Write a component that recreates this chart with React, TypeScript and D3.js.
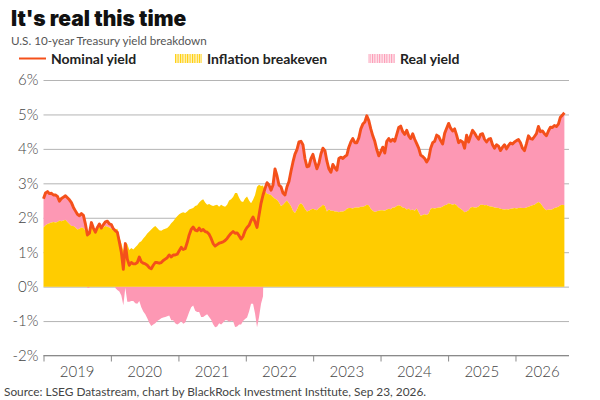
import { useEffect, useRef } from 'react';
import * as d3 from 'd3';

const yTicks = [6, 5, 4, 3, 2, 1, 0, -1, -2];
const yearLabels = [2019, 2020, 2021, 2022, 2023, 2024, 2025, 2026];

// percent at even steps from Jan 2019 to Sep 2026
const nominal = [
  2.55, 2.72, 2.76, 2.7, 2.71, 2.66, 2.66, 2.62, 2.48, 2.56,
  2.6, 2.64, 2.58, 2.52, 2.44, 2.3, 2.2, 2.1, 2.06, 2.12,
  2.07, 1.82, 1.5, 1.55, 1.86, 1.7, 1.58, 1.72, 1.82, 1.7,
  1.8, 1.88, 1.9, 1.82, 1.8, 1.68, 1.62, 1.58, 1.3, 1.0,
  0.5, 1.25, 0.8, 0.62, 0.7, 0.66, 0.66, 0.7, 0.86, 0.72,
  0.68, 0.66, 0.62, 0.55, 0.52, 0.62, 0.7, 0.7, 0.68, 0.7,
  0.76, 0.8, 0.84, 0.92, 0.86, 0.92, 0.92, 0.94, 1.04, 1.14,
  1.08, 1.1, 1.28, 1.5, 1.66, 1.73, 1.64, 1.62, 1.7, 1.62,
  1.66, 1.6, 1.58, 1.52, 1.4, 1.25, 1.18, 1.22, 1.26, 1.28,
  1.3, 1.34, 1.4, 1.48, 1.55, 1.6, 1.55, 1.56, 1.48, 1.38,
  1.46, 1.62, 1.72, 1.78, 1.92, 2.02, 1.88, 1.72, 2.08, 2.42,
  2.66, 2.85, 3.02, 2.95, 2.8, 2.95, 3.42, 3.22, 2.95, 2.9,
  2.72, 2.66, 2.9, 3.05, 3.35, 3.62, 3.85, 3.98, 4.2, 4.22,
  4.12, 3.72, 3.48, 3.5, 3.72, 3.84, 3.62, 3.42, 3.58, 3.85,
  4.02, 3.95, 3.65, 3.42, 3.32, 3.55, 3.45, 3.38, 3.72, 3.76,
  3.72, 3.78, 3.82, 4.05, 4.2, 4.3, 4.18, 4.18, 4.32, 4.58,
  4.72, 4.78, 4.96, 4.82, 4.58, 4.38, 4.22, 3.98, 3.8, 3.92,
  4.05, 3.88, 4.22, 4.3, 4.22, 4.28, 4.22, 4.42, 4.62, 4.66,
  4.5, 4.42, 4.54, 4.38, 4.3, 4.44, 4.28, 4.15, 4.02, 3.82,
  3.78, 3.72, 3.62, 3.72, 4.02, 4.18, 4.22, 4.4, 4.36, 4.24,
  4.14, 4.45, 4.6, 4.74, 4.6, 4.52, 4.58, 4.4, 4.18, 4.24,
  4.2, 4.02, 4.4, 4.2, 4.38, 4.54, 4.46, 4.36, 4.28, 4.42,
  4.44, 4.28, 4.2, 4.28, 4.3, 4.12, 4.02, 4.12, 4.08, 3.95,
  4.05, 4.12, 4.0, 4.1, 4.17, 4.14, 4.2, 4.24, 4.27, 4.18,
  4.02, 3.95, 4.15, 4.38, 4.3, 4.28, 4.36, 4.44, 4.65, 4.5,
  4.52, 4.44, 4.38, 4.52, 4.63, 4.62, 4.68, 4.65, 4.72, 4.92,
  4.98, 5.05,
];

const breakeven = [
  1.72, 1.78, 1.82, 1.84, 1.86, 1.88, 1.86, 1.88, 1.92, 1.9,
  1.92, 1.94, 1.88, 1.82, 1.76, 1.76, 1.72, 1.66, 1.68, 1.72,
  1.7, 1.62, 1.54, 1.58, 1.72, 1.66, 1.6, 1.68, 1.74, 1.68,
  1.72, 1.76, 1.74, 1.72, 1.68, 1.62, 1.66, 1.68, 1.44, 1.26,
  1.04, 1.28, 1.24, 1.06, 1.12, 1.08, 1.14, 1.2, 1.28, 1.32,
  1.4, 1.46, 1.54, 1.6, 1.66, 1.72, 1.76, 1.7, 1.64, 1.62,
  1.66, 1.68, 1.7, 1.76, 1.84, 1.9, 1.98, 2.04, 2.1, 2.14,
  2.16, 2.14, 2.18, 2.24, 2.26, 2.28, 2.34, 2.36, 2.44, 2.5,
  2.54, 2.44, 2.38, 2.4, 2.36, 2.34, 2.36, 2.38, 2.32, 2.38,
  2.34, 2.32, 2.38, 2.5, 2.54, 2.6, 2.72, 2.72, 2.58, 2.48,
  2.46, 2.56, 2.62, 2.5, 2.42, 2.52, 2.66, 2.9, 2.96, 2.92,
  2.94, 2.78, 2.7, 2.68, 2.66, 2.6, 2.55, 2.52, 2.44, 2.34,
  2.38, 2.44, 2.5, 2.42, 2.34, 2.2, 2.14, 2.24, 2.38, 2.42,
  2.36, 2.26, 2.18, 2.2, 2.24, 2.26, 2.24, 2.22, 2.28, 2.32,
  2.38, 2.34, 2.18, 2.24, 2.2, 2.2, 2.18, 2.18, 2.16, 2.18,
  2.18, 2.2, 2.26, 2.28, 2.28, 2.27, 2.3, 2.3, 2.3, 2.32,
  2.32, 2.34, 2.38, 2.36, 2.26, 2.2, 2.17, 2.19, 2.2, 2.22,
  2.22, 2.2, 2.24, 2.26, 2.25, 2.3, 2.3, 2.34, 2.36, 2.34,
  2.3, 2.28, 2.24, 2.27, 2.22, 2.24, 2.2, 2.27, 2.16, 2.06,
  2.08, 2.1, 2.08, 2.12, 2.26, 2.28, 2.27, 2.28, 2.3, 2.3,
  2.33, 2.36, 2.38, 2.42, 2.4, 2.38, 2.4, 2.36, 2.3, 2.26,
  2.22, 2.16, 2.18, 2.22, 2.3, 2.31, 2.3, 2.3, 2.33, 2.38,
  2.38, 2.36, 2.37, 2.34, 2.33, 2.32, 2.3, 2.29, 2.28, 2.26,
  2.25, 2.24, 2.25, 2.24, 2.26, 2.27, 2.28, 2.27, 2.28, 2.29,
  2.28, 2.28, 2.3, 2.32, 2.34, 2.36, 2.38, 2.42, 2.46, 2.42,
  2.34, 2.26, 2.22, 2.24, 2.23, 2.25, 2.28, 2.3, 2.32, 2.36,
  2.38, 2.36,
];

const startDate = new Date(2019, 0, 1);
const endDate = new Date(2026, 8, 23);
const axisEnd = new Date(2026, 9, 18);

const ORANGE = '#f4501a';
const YELLOW = '#ffcc00';
const PINK = '#fd98b4';
const GRID = '#b4b4b4';
const FONT = 'Lato, sans-serif';

export default function App() {
  const svgRef = useRef<SVGSVGElement | null>(null);

  useEffect(() => {
    const svg = svgRef.current;
    if (!svg) return;

    const root = d3.select(svg);
    root.selectAll('*').remove();

    const left = 43.5;
    const right = 569;

    const x = d3.scaleTime().domain([startDate, axisEnd]).range([left, right]);
    const y = d3.scaleLinear().domain([-2, 6]).range([355.5, 80]);

    const stepMs = (endDate.getTime() - startDate.getTime()) / (nominal.length - 1);
    const rows = nominal.map((n, i) => ({
      date: new Date(startDate.getTime() + i * stepMs),
      nominal: n,
      breakeven: breakeven[i],
      real: n - breakeven[i],
    }));
    type Row = (typeof rows)[number];

    const defs = root.append('defs');
    [
      ['hatch-yellow', YELLOW, '#fff3c0'],
      ['hatch-pink', PINK, '#fde6ec'],
    ].forEach(([id, c, bg]) => {
      const p = defs
        .append('pattern')
        .attr('id', id)
        .attr('width', 2.4)
        .attr('height', 10)
        .attr('patternUnits', 'userSpaceOnUse');
      p.append('rect').attr('width', 2.4).attr('height', 10).attr('fill', bg);
      p.append('rect').attr('width', 1).attr('height', 10).attr('fill', c);
    });

    // grid + y labels
    root
      .append('g')
      .attr('transform', `translate(${left},0)`)
      .call(
        d3
          .axisLeft(y)
          .tickValues(yTicks)
          .tickSize(-(right - left))
          .tickPadding(5)
          .tickFormat((d) => `${d}%`)
      )
      .call((g) => g.select('.domain').remove())
      .call((g) => g.selectAll('line').attr('stroke', GRID).attr('stroke-width', 1))
      .call((g) =>
        g
          .selectAll('text')
          .attr('fill', '#444')
          .attr('font-family', FONT)
          .attr('font-weight', 300)
          .attr('font-size', 15)
      );

    const realArea = d3
      .area<Row>()
      .x((d) => x(d.date))
      .y0((d) => y(d.real >= 0 ? d.breakeven : 0))
      .y1((d) => y(d.real >= 0 ? d.nominal : d.real));

    const breakevenArea = d3
      .area<Row>()
      .x((d) => x(d.date))
      .y0(y(0))
      .y1((d) => y(d.breakeven));

    const nominalLine = d3
      .line<Row>()
      .x((d) => x(d.date))
      .y((d) => y(d.nominal));

    root.append('path').datum(rows).attr('fill', PINK).attr('d', realArea as any);
    root.append('path').datum(rows).attr('fill', YELLOW).attr('d', breakevenArea as any);
    root
      .append('path')
      .datum(rows)
      .attr('fill', 'none')
      .attr('stroke', ORANGE)
      .attr('stroke-width', 2.9)
      .attr('stroke-linejoin', 'round')
      .attr('d', nominalLine as any);

    // bottom axis: ticks at year starts, labels centred in each year
    const yearStarts = yearLabels.map((yr) => new Date(yr, 0, 1));
    root
      .append('g')
      .attr('transform', `translate(0,${y(-2)})`)
      .call(
        d3
          .axisBottom(x)
          .tickValues(yearStarts)
          .tickSize(6)
          .tickFormat(() => '')
      )
      .call((g) => g.select('.domain').attr('stroke', '#8a8a8a').attr('d', `M${left},0H${right}`))
      .call((g) => g.selectAll('line').attr('stroke', '#8a8a8a'));

    root
      .append('g')
      .selectAll('text')
      .data(yearLabels)
      .join('text')
      .attr('x', (yr, i) => {
        const from = x(yearStarts[i]);
        const to = i < yearStarts.length - 1 ? x(yearStarts[i + 1]) : x.range()[1];
        return (from + to) / 2;
      })
      .attr('y', 377)
      .attr('text-anchor', 'middle')
      .attr('fill', '#444')
      .attr('font-family', FONT)
      .attr('font-weight', 300)
      .attr('font-size', 15)
      .text((yr) => yr);

    // titles
    root
      .append('text')
      .attr('x', 11)
      .attr('y', 26)
      .attr('font-family', 'Inter, sans-serif')
      .attr('font-weight', 900)
      .attr('font-size', 21)
      .attr('fill', '#111')
      .text("It's real this time");

    root
      .append('text')
      .attr('x', 11)
      .attr('y', 45)
      .attr('font-family', FONT)
      .attr('font-size', 11.7)
      .attr('fill', '#555')
      .text('U.S. 10-year Treasury yield breakdown');

    // legend
    const legendText = (tx: number, label: string) =>
      root
        .append('text')
        .attr('x', tx)
        .attr('y', 64)
        .attr('font-family', FONT)
        .attr('font-weight', 700)
        .attr('font-size', 14)
        .attr('fill', '#222')
        .text(label);

    root
      .append('line')
      .attr('x1', 19)
      .attr('x2', 46)
      .attr('y1', 58.5)
      .attr('y2', 58.5)
      .attr('stroke', ORANGE)
      .attr('stroke-width', 2);
    legendText(51, 'Nominal yield');

    root
      .append('rect')
      .attr('x', 175)
      .attr('y', 54)
      .attr('width', 27)
      .attr('height', 9)
      .attr('fill', 'url(#hatch-yellow)');
    legendText(207, 'Inflation breakeven');

    root
      .append('rect')
      .attr('x', 368)
      .attr('y', 54)
      .attr('width', 27)
      .attr('height', 9)
      .attr('fill', 'url(#hatch-pink)');
    legendText(400, 'Real yield');

    root
      .append('text')
      .attr('x', 4)
      .attr('y', 396)
      .attr('font-family', FONT)
      .attr('font-size', 11.85)
      .attr('fill', '#444')
      .text('Source: LSEG Datastream, chart by BlackRock Investment Institute, Sep 23, 2026.');
  }, []);

  return (
    <svg
      ref={svgRef}
      width={600}
      height={400}
      viewBox="0 0 600 400"
      style={{ position: 'absolute', left: 0, top: 0, background: '#fff' }}
    />
  );
}
